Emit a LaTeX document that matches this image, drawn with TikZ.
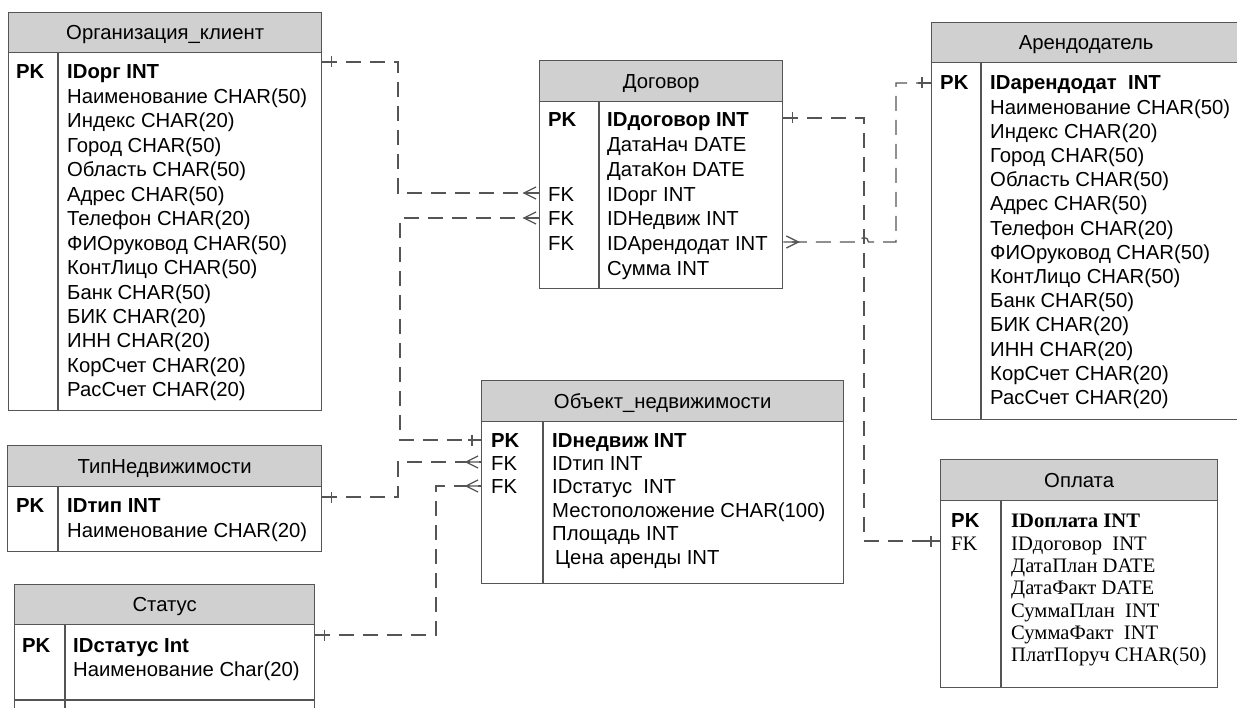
\documentclass[tikz,border=0pt]{standalone}
\usepackage{fontspec}
\setmainfont{Liberation Sans}
\newfontfamily\timesfont{Liberation Serif}
\newcommand\erfont{\fontsize{20.3pt}{24pt}\selectfont}
\newcommand\serfont{\fontsize{20.6pt}{24pt}\timesfont}
\definecolor{linec}{RGB}{85,85,85}
\definecolor{headc}{RGB}{208,208,208}

% one entity: name, left, top, header bottom, right, bottom, key-column divider, title
\newcommand\ertable[8]{%
  \node[headbox, anchor=north west, minimum width=#5pt-#2pt, minimum height=#4pt-#3pt] (#1-h) at (#2,#3) {#8};
  \node[bodybox, anchor=north west, minimum width=#5pt-#2pt, minimum height=#6pt-#4pt] (#1) at (#2,#4) {};
  \draw[frame] (#7,#4) -- (#7,#6);
}

\tikzset{
  frame/.style={draw=linec, line width=1.3pt},
  headbox/.style={frame, fill=headc, inner sep=0pt, text height=14.5pt, text depth=0pt, font=\erfont},
  bodybox/.style={frame, fill=white, inner sep=0pt},
  fld/.style={anchor=base west, inner sep=0pt, font=\erfont},
  sfld/.style={anchor=base west, inner sep=0pt, font=\serfont},
  conn/.style={draw=linec, line width=1.3pt, dash pattern=on 15pt off 9pt},
  mk/.style={draw=linec, line width=1.3pt, solid},
  bar/.pic={\draw[mk] (0,0) -- (13,0) (9,-5.5) -- (9,5.5);},
  crow/.pic={\draw[mk] (0,0) -- (16,0) (3,-6) -- (15,0) -- (3,6);},
}

\begin{document}
\begin{tikzpicture}[x=1pt,y=-1pt]
\useasboundingbox (0,0) rectangle (1237,708);
\clip (0,0) rectangle (1237,708);
\fill[white] (0,0) rectangle (1237,708);

% ---------- Организация_клиент ----------
\ertable{org}{8}{12}{52}{321}{410}{58}{Организация\_клиент}
\node[fld] (org-k) at (16,79) {\textbf{PK}};
\node[fld] (org1) at (67,79) {\textbf{IDорг INT}};
\node[fld] (org2) at (67,103.45) {Наименование CHAR(50)};
\node[fld] (org3) at (67,127.9) {Индекс CHAR(20)};
\node[fld] (org4) at (67,152.35) {Город CHAR(50)};
\node[fld] (org5) at (67,176.8) {Область CHAR(50)};
\node[fld] (org6) at (67,201.25) {Адрес CHAR(50)};
\node[fld] (org7) at (67,225.7) {Телефон CHAR(20)};
\node[fld] (org8) at (67,250.15) {ФИОруковод CHAR(50)};
\node[fld] (org9) at (67,274.6) {КонтЛицо CHAR(50)};
\node[fld] (org10) at (67,299.05) {Банк CHAR(50)};
\node[fld] (org11) at (67,323.5) {БИК CHAR(20)};
\node[fld] (org12) at (67,347.95) {ИНН CHAR(20)};
\node[fld] (org13) at (67,372.4) {КорСчет CHAR(20)};
\node[fld] (org14) at (67,396.85) {РасСчет CHAR(20)};

% ---------- Договор ----------
\ertable{dog}{539}{60}{101}{782}{288}{599}{Договор}
\node[fld] (dog-k1) at (548,127) {\textbf{PK}};
\node[fld] (dog-k4) at (548,201.1) {FK};
\node[fld] (dog-k5) at (548,225.8) {FK};
\node[fld] (dog-k6) at (548,250.5) {FK};
\node[fld] (dog1) at (607,127) {\textbf{IDдоговор INT}};
\node[fld] (dog2) at (607,151.7) {ДатаНач DATE};
\node[fld] (dog3) at (607,176.4) {ДатаКон DATE};
\node[fld] (dog4) at (607,201.1) {IDорг INT};
\node[fld] (dog5) at (607,225.8) {IDНедвиж INT};
\node[fld] (dog6) at (607,250.5) {IDАрендодат INT};
\node[fld] (dog7) at (607,275.2) {Сумма INT};

% ---------- Арендодатель ----------
\ertable{arn}{931}{22}{62}{1240}{419}{981}{Арендодатель}
\node[fld] (arn-k) at (940,90) {\textbf{PK}};
\node[fld] (arn1) at (990,90) {\textbf{IDарендодат~~INT}};
\node[fld] (arn2) at (990,114.2) {Наименование CHAR(50)};
\node[fld] (arn3) at (990,138.4) {Индекс CHAR(20)};
\node[fld] (arn4) at (990,162.6) {Город CHAR(50)};
\node[fld] (arn5) at (990,186.8) {Область CHAR(50)};
\node[fld] (arn6) at (990,211) {Адрес CHAR(50)};
\node[fld] (arn7) at (990,235.2) {Телефон CHAR(20)};
\node[fld] (arn8) at (990,259.4) {ФИОруковод CHAR(50)};
\node[fld] (arn9) at (990,283.6) {КонтЛицо CHAR(50)};
\node[fld] (arn10) at (990,307.8) {Банк CHAR(50)};
\node[fld] (arn11) at (990,332) {БИК CHAR(20)};
\node[fld] (arn12) at (990,356.2) {ИНН CHAR(20)};
\node[fld] (arn13) at (990,380.4) {КорСчет CHAR(20)};
\node[fld] (arn14) at (990,404.6) {РасСчет CHAR(20)};

% ---------- Объект_недвижимости ----------
\ertable{obj}{481}{380}{421}{843}{583}{543}{Объект\_недвижимости}
\node[fld] (obj-k1) at (491,447) {\textbf{PK}};
\node[fld] (obj-k2) at (491,470.4) {FK};
\node[fld] (obj-k3) at (491,493.8) {FK};
\node[fld] (obj1) at (552,447) {\textbf{IDнедвиж INT}};
\node[fld] (obj2) at (552,470.4) {IDтип INT};
\node[fld] (obj3) at (552,493.8) {IDстатус~~INT};
\node[fld] (obj4) at (552,517.2) {Местоположение CHAR(100)};
\node[fld] (obj5) at (552,540.6) {Площадь INT};
\node[fld] (obj6) at (555,564) {Цена аренды INT};

% ---------- ТипНедвижимости ----------
\ertable{tip}{7}{445}{486}{321}{551}{58}{ТипНедвижимости}
\node[fld] (tip-k) at (16,512) {\textbf{PK}};
\node[fld] (tip1) at (67,512) {\textbf{IDтип INT}};
\node[fld] (tip2) at (67,537) {Наименование CHAR(20)};

% ---------- Статус ----------
\ertable{st}{14}{584}{624}{314}{725}{65}{Статус}
\draw[frame] (st.west |- 0,700) -- (st.east |- 0,700);
\node[fld] (st-k) at (22,652) {\textbf{PK}};
\node[fld] (st1) at (73,652) {\textbf{IDстатус Int}};
\node[fld] (st2) at (73,676) {Наименование Char(20)};

% ---------- Оплата ----------
\ertable{opl}{940}{459}{500}{1217}{687}{1001}{Оплата}
\node[fld] (opl-k1) at (951,527) {\textbf{PK}};
\node[sfld] (opl-k2) at (951,550) {FK};
\node[sfld] (opl1) at (1011,527) {\textbf{IDоплата INT}};
\node[sfld] (opl2) at (1011,550) {IDдоговор~~INT};
\node[sfld] (opl3) at (1011,572) {ДатаПлан DATE};
\node[sfld] (opl4) at (1011,594.5) {ДатаФакт DATE};
\node[sfld] (opl5) at (1011,617) {СуммаПлан~~INT};
\node[sfld] (opl6) at (1011,639) {СуммаФакт~~INT};
\node[sfld] (opl7) at (1011,661) {ПлатПоруч CHAR(50)};

% ---------- relationships ----------
% Организация_клиент -> Договор
\coordinate (a1) at (org.east |- 0,62);
\coordinate (a2) at (dog.west |- 0,193);
\draw[conn] (a1) -- (a1 -| 398,0) -- (a2 -| 398,0) -- (a2);
\pic at (a1) {bar};
\pic[xscale=-1] at (a2) {crow};

% Объект_недвижимости -> Договор
\coordinate (b1) at (obj.west |- 0,440);
\coordinate (b2) at (dog.west |- 0,218);
\draw[conn] (b2) -- (b2 -| 400,0) -- (b1 -| 400,0) -- (b1);
\pic[xscale=-1] at (b1) {bar};
\pic[xscale=-1] at (b2) {crow};

% Арендодатель -> Договор (hops over the Оплата line)
\coordinate (c1) at (arn.west |- 0,83);
\coordinate (c2) at (dog.east |- 0,242);
\draw[conn] (c1) -- (c1 -| 896,0) -- (c2 -| 896,0) -- (c2 -| 868.5,0)
  arc[start angle=0, end angle=-180, radius=4.5] -- (c2);
\pic[xscale=-1] at (c1) {bar};
\pic at (c2) {crow};

% Договор -> Оплата
\coordinate (d1) at (dog.east |- 0,118);
\coordinate (d2) at (opl.west |- 0,541);
\draw[conn] (d1) -- (d1 -| 864,0) -- (d2 -| 864,0) -- (d2);
\pic at (d1) {bar};
\pic[xscale=-1] at (d2) {bar};

% ТипНедвижимости -> Объект_недвижимости
\coordinate (e1) at (tip.east |- 0,497);
\coordinate (e2) at (obj.west |- 0,462);
\draw[conn] (e1) -- (e1 -| 398,0) -- (e2 -| 398,0) -- (e2);
\pic at (e1) {bar};
\pic[xscale=-1] at (e2) {crow};

% Статус -> Объект_недвижимости
\coordinate (f1) at (st.east |- 0,635);
\coordinate (f2) at (obj.west |- 0,486);
\draw[conn] (f1) -- (f1 -| 436,0) -- (f2 -| 436,0) -- (f2);
\pic at (f1) {bar};
\pic[xscale=-1] at (f2) {crow};
\end{tikzpicture}
\end{document}
